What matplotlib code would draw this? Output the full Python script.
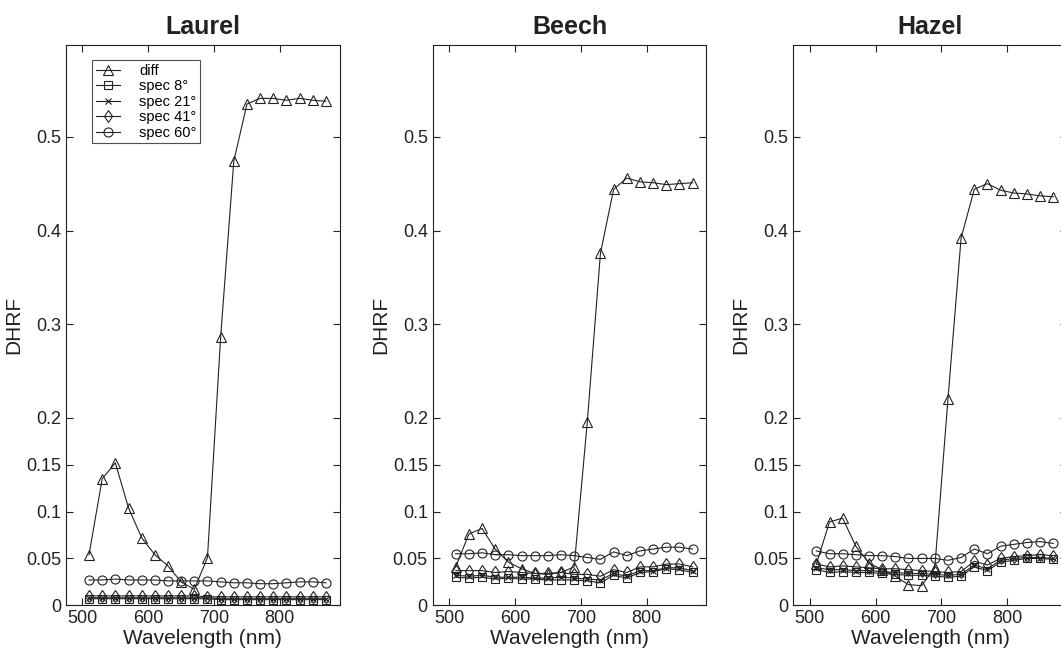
import matplotlib
matplotlib.use('Agg')
import matplotlib.pyplot as plt
import numpy as np

plt.rcParams['font.family'] = ['Liberation Sans', 'DejaVu Sans']

wavelength = [510, 530, 550, 570, 590, 610, 630, 650, 670, 690,
              710, 730, 750, 770, 790, 810, 830, 850, 870]

# Laurel
laurel_diff = [0.054, 0.135, 0.152, 0.104, 0.072, 0.054, 0.042, 0.025, 0.017, 0.051,
               0.286, 0.474, 0.535, 0.541, 0.541, 0.539, 0.541, 0.539, 0.538]
laurel_s8 = [0.007, 0.007, 0.007, 0.007, 0.007, 0.007, 0.007, 0.007, 0.007, 0.007,
             0.006, 0.006, 0.006, 0.006, 0.006, 0.006, 0.006, 0.006, 0.006]
laurel_s21 = [0.008, 0.008, 0.008, 0.008, 0.008, 0.008, 0.008, 0.008, 0.008, 0.008,
              0.007, 0.007, 0.007, 0.007, 0.007, 0.007, 0.007, 0.007, 0.007]
laurel_s41 = [0.010, 0.010, 0.010, 0.010, 0.010, 0.010, 0.010, 0.010, 0.010, 0.009,
              0.009, 0.009, 0.009, 0.009, 0.009, 0.009, 0.009, 0.009, 0.009]
laurel_s60 = [0.027, 0.027, 0.028, 0.027, 0.027, 0.027, 0.026, 0.026, 0.026, 0.026,
              0.025, 0.024, 0.024, 0.023, 0.023, 0.024, 0.025, 0.025, 0.024]

# Beech
beech_diff = [0.041, 0.076, 0.082, 0.060, 0.046, 0.039, 0.034, 0.033, 0.035, 0.041,
              0.196, 0.376, 0.444, 0.456, 0.452, 0.451, 0.449, 0.450, 0.451]
beech_s8 = [0.030, 0.029, 0.030, 0.028, 0.029, 0.028, 0.028, 0.027, 0.027, 0.027,
            0.026, 0.024, 0.032, 0.029, 0.035, 0.036, 0.039, 0.038, 0.035]
beech_s21 = [0.032, 0.031, 0.032, 0.030, 0.030, 0.030, 0.029, 0.029, 0.030, 0.029,
             0.028, 0.027, 0.034, 0.031, 0.037, 0.037, 0.040, 0.040, 0.037]
beech_s41 = [0.037, 0.037, 0.037, 0.035, 0.036, 0.035, 0.034, 0.034, 0.035, 0.033,
             0.033, 0.031, 0.038, 0.035, 0.041, 0.041, 0.044, 0.044, 0.041]
beech_s60 = [0.055, 0.055, 0.056, 0.054, 0.054, 0.053, 0.053, 0.053, 0.054, 0.053,
             0.051, 0.049, 0.057, 0.053, 0.058, 0.060, 0.062, 0.062, 0.060]

# Hazel
hazel_diff = [0.044, 0.089, 0.093, 0.063, 0.045, 0.038, 0.031, 0.022, 0.021, 0.040,
              0.220, 0.392, 0.444, 0.450, 0.443, 0.440, 0.439, 0.437, 0.436]
hazel_s8 = [0.038, 0.035, 0.036, 0.035, 0.035, 0.034, 0.033, 0.032, 0.032, 0.031,
            0.030, 0.031, 0.041, 0.037, 0.046, 0.048, 0.050, 0.050, 0.049]
hazel_s21 = [0.040, 0.038, 0.038, 0.037, 0.037, 0.036, 0.035, 0.034, 0.034, 0.033,
             0.032, 0.033, 0.043, 0.039, 0.048, 0.050, 0.051, 0.051, 0.050]
hazel_s41 = [0.044, 0.041, 0.042, 0.041, 0.040, 0.039, 0.039, 0.038, 0.037, 0.036,
             0.035, 0.036, 0.047, 0.043, 0.050, 0.052, 0.053, 0.054, 0.053]
hazel_s60 = [0.058, 0.055, 0.055, 0.054, 0.053, 0.053, 0.052, 0.050, 0.050, 0.050,
             0.048, 0.051, 0.060, 0.055, 0.063, 0.065, 0.067, 0.068, 0.066]

titles = ['Laurel', 'Beech', 'Hazel']
panels = [
    [laurel_diff, laurel_s8, laurel_s21, laurel_s41, laurel_s60],
    [beech_diff, beech_s8, beech_s21, beech_s41, beech_s60],
    [hazel_diff, hazel_s8, hazel_s21, hazel_s41, hazel_s60],
]
labels = ['diff', 'spec 8°', 'spec 21°', 'spec 41°', 'spec 60°']
markers = ['^', 's', 'x', 'd', 'o']
msizes = [7, 6, 4, 6, 6.5]

yticks = [0, 0.05, 0.1, 0.15, 0.2, 0.3, 0.4, 0.5]
ytick_labels = ['0', '0.05', '0.1', '0.15', '0.2', '0.3', '0.4', '0.5']
xticks = [500, 600, 700, 800]

fig = plt.figure(figsize=(10.61, 6.55), dpi=100)
lefts = [0.0622, 0.4078, 0.7477]
ink = '#222222'

for k in range(3):
    ax = fig.add_axes([lefts[k], 0.0759, 0.258, 0.8554])
    for series, lab, mk, ms in zip(panels[k], labels, markers, msizes):
        ax.plot(wavelength, series, marker=mk, markersize=ms, color=ink,
                markerfacecolor='none', markeredgewidth=0.8, linewidth=0.8,
                label=lab)
    ax.set_xlim(475, 891)
    ax.set_ylim(0, 0.598)
    ax.set_xticks(xticks)
    ax.set_yticks(yticks)
    ax.set_yticklabels(ytick_labels)
    ax.tick_params(direction='in', top=True, right=True, labelsize=13,
                   length=5, width=0.8, colors=ink)
    for sp in ax.spines.values():
        sp.set_linewidth(0.8)
        sp.set_color(ink)
    ax.set_xlabel('Wavelength (nm)', fontsize=15, color=ink, labelpad=1)
    ax.set_ylabel('DHRF', fontsize=15, color=ink, labelpad=2)
    ax.set_title(titles[k], fontsize=18, fontweight='bold', color=ink, pad=8)
    if k == 0:
        leg = ax.legend(loc='upper left', bbox_to_anchor=(0.095, 0.973),
                        fontsize=10.5, frameon=True, fancybox=False,
                        edgecolor=ink, handlelength=1.7, handletextpad=1.3,
                        labelspacing=0.1, borderpad=0.25, borderaxespad=0)
        leg.get_frame().set_linewidth(0.8)

fig.savefig('out.png', dpi=100)
